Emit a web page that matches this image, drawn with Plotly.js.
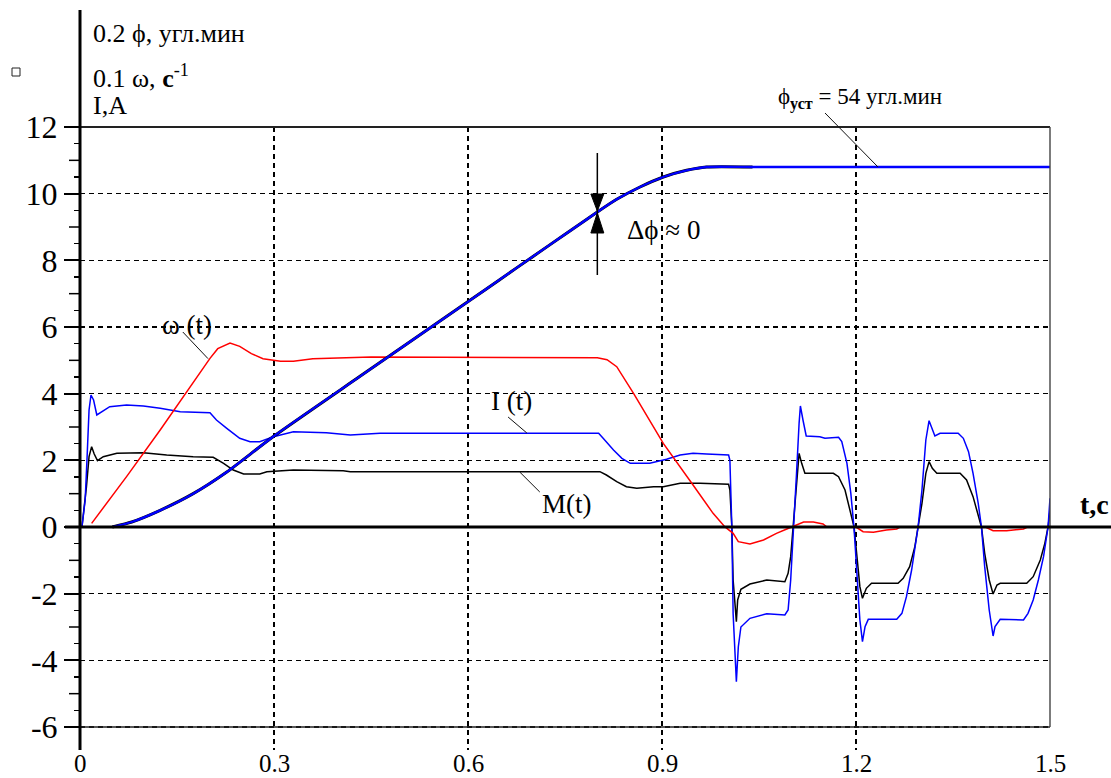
<!DOCTYPE html>
<html>
<head>
<meta charset="utf-8">
<script src="https://cdn.plot.ly/plotly-3.0.1.min.js"></script>
<style>
  html, body { margin: 0; padding: 0; background: #fff; }
  #chart { width: 1111px; height: 778px; }
</style>
</head>
<body>
<div id="chart"></div>
<script>
// Rotation angle phi (scaled 0.2, arc-minutes): actual response
const tPhi = [0.05, 0.08, 0.124, 0.175, 0.227, 0.298, 0.433, 0.603, 0.649, 0.7, 0.753, 0.8, 0.83, 0.866, 0.902, 0.938, 0.969, 1.04, 1.25, 1.5];
const phi  = [0, 0.15, 0.5, 1.0, 1.65, 2.7, 4.52, 6.8, 7.42, 8.11, 8.82, 9.45, 9.83, 10.2, 10.5, 10.7, 10.8, 10.8, 10.8, 10.8];

// Rotation angle phi: reference trajectory (drawn underneath)
const tPhiRef = [0.05, 0.08, 0.124, 0.175, 0.227, 0.298, 0.433, 0.603, 0.649, 0.7, 0.753, 0.8, 0.83, 0.866, 0.902, 0.938, 0.969, 1.04];
const phiRef  = [0, 0.15, 0.5, 1.0, 1.65, 2.7, 4.52, 6.8, 7.42, 8.11, 8.82, 9.45, 9.83, 10.2, 10.5, 10.7, 10.8, 10.8];

// Angular speed omega (scaled 0.1, 1/s)
const tOmega = [0.018, 0.072, 0.124, 0.175, 0.201, 0.213, 0.232, 0.247, 0.265, 0.283, 0.31, 0.33, 0.36, 0.45, 0.55, 0.65, 0.75, 0.8, 0.815, 0.83, 0.856, 0.902, 0.948, 0.979, 0.997, 1.010, 1.018, 1.036, 1.057, 1.077, 1.093, 1.1, 1.112, 1.119, 1.134, 1.149, 1.155, 1.2, 1.211, 1.227, 1.247, 1.263, 1.268, 1.40, 1.412, 1.433, 1.459, 1.465];
const omega  = [0.11, 1.51, 2.91, 4.35, 5.06, 5.35, 5.52, 5.42, 5.2, 5.05, 4.97, 4.97, 5.05, 5.1, 5.1, 5.1, 5.08, 5.08, 5.02, 4.81, 4.01, 2.51, 1.26, 0.41, 0.01, -0.19, -0.44, -0.51, -0.39, -0.19, -0.06, 0, 0.1, 0.15, 0.15, 0.09, 0, 0, -0.14, -0.16, -0.09, -0.06, 0, 0, -0.11, -0.11, -0.06, 0];

// Motor current I, A
const tCurrent = [0.003, 0.008, 0.011, 0.014, 0.017, 0.021, 0.026, 0.034, 0.046, 0.072, 0.098, 0.124, 0.155, 0.201, 0.211, 0.227, 0.247, 0.263, 0.278, 0.299, 0.330, 0.381, 0.418, 0.464, 0.619, 0.802, 0.809, 0.825, 0.838, 0.851, 0.881, 0.907, 0.928, 0.948, 0.969, 1.003, 1.005, 1.008, 1.010, 1.015, 1.018, 1.022, 1.036, 1.062, 1.090, 1.095, 1.099, 1.103, 1.108, 1.112, 1.114, 1.118, 1.123, 1.144, 1.152, 1.173, 1.178, 1.186, 1.192, 1.197, 1.202, 1.206, 1.210, 1.214, 1.219, 1.263, 1.271, 1.278, 1.286, 1.293, 1.296, 1.302, 1.308, 1.313, 1.317, 1.322, 1.330, 1.358, 1.366, 1.374, 1.381, 1.389, 1.394, 1.399, 1.406, 1.412, 1.415, 1.423, 1.459, 1.466, 1.474, 1.482, 1.490, 1.497, 1.500];
const current  = [0, 0.81, 2.11, 3.51, 3.96, 3.81, 3.36, 3.46, 3.61, 3.66, 3.63, 3.56, 3.46, 3.43, 3.21, 2.96, 2.66, 2.56, 2.56, 2.71, 2.86, 2.83, 2.76, 2.81, 2.81, 2.81, 2.66, 2.31, 2.06, 1.91, 1.91, 2.03, 2.16, 2.21, 2.19, 2.16, 2.0, 0, -2.6, -4.64, -3.6, -3.0, -2.74, -2.6, -2.64, -2.49, -1.59, 0, 1.6, 3.11, 3.63, 3.21, 2.73, 2.71, 2.66, 2.69, 2.56, 1.91, 1.01, -0.04, -1.59, -2.79, -3.44, -2.99, -2.77, -2.77, -2.59, -2.09, -1.29, -0.39, 0, 1.11, 2.61, 3.19, 3.01, 2.73, 2.81, 2.81, 2.66, 2.26, 1.61, 0.71, 0, -1.19, -2.49, -3.27, -2.99, -2.77, -2.79, -2.59, -2.19, -1.59, -0.89, 0, 0.86];

// Motor torque M
const tTorque = [0.003, 0.010, 0.014, 0.018, 0.022, 0.027, 0.036, 0.057, 0.098, 0.134, 0.175, 0.206, 0.222, 0.237, 0.253, 0.278, 0.289, 0.330, 0.407, 0.418, 0.804, 0.814, 0.830, 0.845, 0.861, 0.887, 0.902, 0.928, 0.959, 1.003, 1.005, 1.008, 1.010, 1.015, 1.017, 1.022, 1.036, 1.062, 1.090, 1.095, 1.099, 1.103, 1.108, 1.112, 1.116, 1.121, 1.165, 1.173, 1.183, 1.191, 1.197, 1.202, 1.206, 1.210, 1.216, 1.224, 1.265, 1.273, 1.283, 1.291, 1.296, 1.302, 1.308, 1.313, 1.318, 1.325, 1.361, 1.371, 1.381, 1.389, 1.394, 1.399, 1.406, 1.412, 1.418, 1.423, 1.464, 1.474, 1.485, 1.492, 1.497, 1.500];
const torque  = [0, 1.21, 2.11, 2.41, 2.19, 1.99, 2.11, 2.21, 2.23, 2.16, 2.11, 2.09, 1.91, 1.71, 1.59, 1.59, 1.66, 1.71, 1.69, 1.66, 1.66, 1.56, 1.36, 1.21, 1.16, 1.21, 1.21, 1.31, 1.31, 1.28, 1.11, 0, -1.59, -2.84, -2.19, -1.87, -1.71, -1.59, -1.64, -1.39, -0.89, 0, 1.11, 2.21, 1.91, 1.61, 1.61, 1.51, 1.11, 0.51, 0, -0.99, -1.79, -2.14, -1.84, -1.69, -1.69, -1.54, -1.19, -0.59, 0, 0.71, 1.61, 1.96, 1.76, 1.61, 1.61, 1.41, 0.91, 0.36, 0, -0.79, -1.59, -2.01, -1.74, -1.69, -1.69, -1.49, -0.99, -0.49, 0, 0.5];

// Axis ticks
const xTickVals = [0, 0.3, 0.6, 0.9, 1.2, 1.5];
const xTickText = ["0", "0.3", "0.6", "0.9", "1.2", "1.5"];
const yTickVals = [-6, -4, -2, 0, 2, 4, 6, 8, 10, 12];
const yTickText = ["-6", "-4", "-2", "0", "2", "4", "6", "8", "10", "12"];

// ---- geometry helpers (plot box in pixels) ----
const L = 80, W = 970, T = 127, H = 623;
const Y_MIN = -6.69, Y_MAX = 12;
const pxX = px => (px - L) / W;            // pixel x -> paper x
const pxY = py => (T + H - py) / H;        // pixel y -> paper y
const vY  = v => (v - Y_MIN) / (Y_MAX - Y_MIN); // data y -> paper y

const serif = "Liberation Serif, Times New Roman, serif";
const ink = "#000";

const traces = [
  { x: tTorque, y: torque, mode: "lines", line: { color: "#000", width: 1.5 }, hoverinfo: "skip" },
  { x: tCurrent, y: current, mode: "lines", line: { color: "#0000ff", width: 1.5 }, hoverinfo: "skip" },
  { x: tOmega, y: omega, mode: "lines", line: { color: "#ff0000", width: 1.5 }, hoverinfo: "skip" },
  { x: tPhiRef, y: phiRef, mode: "lines", line: { color: "#000", width: 3, shape: "spline", smoothing: 0.6 }, hoverinfo: "skip" },
  { x: tPhi, y: phi, mode: "lines", line: { color: "#0000ff", width: 2.3, shape: "spline", smoothing: 0.6 }, hoverinfo: "skip" }
];

const shapes = [];
const line = (x0, y0, x1, y1, w, c, layer) => shapes.push({
  type: "line", xref: "paper", yref: "paper", x0, y0, x1, y1,
  line: { color: c || ink, width: w }, layer: layer || "above"
});

// frame: top (12), bottom (-6), right (t = 1.5)
line(0, vY(12), 1, vY(12), 2, "#222");
line(0, vY(-6), 1, vY(-6), 1.6, "#222");
line(1, vY(-6), 1, vY(12), 1.4, "#444");
// vertical axis, extended above the plot
line(0, pxY(750), 0, pxY(10), 3, ink);
// zero line, extended right to the t label
line(pxX(65), vY(0), pxX(1111), vY(0), 3, ink);
// medium ticks at odd integers
for (let v = -5; v <= 11; v += 2) line(pxX(69), vY(v), 0, vY(v), 1.5, ink);
// small marker square in the upper left margin
shapes.push({ type: "rect", xref: "paper", yref: "paper",
  x0: pxX(12), x1: pxX(20), y0: pxY(76), y1: pxY(68),
  line: { color: "#222", width: 1 }, fillcolor: "rgba(0,0,0,0)" });

// leader lines for labels
const leader = (x0, y0, x1, y1) => shapes.push({
  type: "line", xref: "x", yref: "y", x0, y0, x1, y1, line: { color: "#111", width: 1 }, layer: "above"
});
leader(0.159, 5.85, 0.198, 5.05);   // omega(t)
leader(0.662, 3.30, 0.691, 2.82);   // I(t)
leader(0.680, 1.65, 0.711, 1.05);   // M(t)
line(pxX(825), pxY(113), pxX(878), pxY(167), 1, "#111"); // phi steady-state

// delta-phi double arrow at t = 0.8
const tA = 0.8, hw = 0.01;
shapes.push({ type: "line", xref: "x", yref: "y", x0: tA, x1: tA, y0: 7.56, y1: 11.22,
  line: { color: ink, width: 1.5 }, layer: "above" });
shapes.push({ type: "path", xref: "x", yref: "y", layer: "above",
  path: `M ${tA - hw},9.99 L ${tA + hw},9.99 L ${tA},9.48 Z`,
  fillcolor: ink, line: { color: ink, width: 1 } });
shapes.push({ type: "path", xref: "x", yref: "y", layer: "above",
  path: `M ${tA - hw},8.82 L ${tA + hw},8.82 L ${tA},9.42 Z`,
  fillcolor: ink, line: { color: ink, width: 1 } });

const ann = (text, x, y, opts) => Object.assign({
  text, x, y, xref: "paper", yref: "paper", showarrow: false,
  xanchor: "left", yanchor: "middle",
  font: { family: serif, size: 26, color: ink }
}, opts || {});

const annotations = [
  ann("0.2 ϕ, угл.мин", pxX(91), pxY(33)),
  ann("0.1 ω, <b>с</b><sup>-1</sup>", pxX(91), pxY(76)),
  ann("I,A", pxX(91), pxY(106)),
  ann("ϕ<sub><b>уст</b></sub> = 54 угл.мин", pxX(776), pxY(98), { font: { family: serif, size: 23, color: ink } }),
  ann("<b>t,c</b>", pxX(1078), pxY(505), { font: { family: serif, size: 28, color: ink } }),
  ann("ω (t)", 0.166, 6.06, { xref: "x", yref: "y", xanchor: "center", font: { family: serif, size: 27, color: ink } }),
  ann("I (t)", 0.6665, 3.78, { xref: "x", yref: "y", xanchor: "center", font: { family: serif, size: 27, color: ink } }),
  ann("M(t)", 0.753, 0.69, { xref: "x", yref: "y", xanchor: "center", font: { family: serif, size: 27, color: ink } }),
  ann("Δϕ ≈ 0", 0.843, 8.91, { xref: "x", yref: "y", font: { family: serif, size: 27, color: ink } })
];

// time-axis labels, placed on the x scale and resting on the bottom edge
xTickVals.forEach((v, i) => annotations.push(ann(xTickText[i], v, pxY(778), {
  xref: "x", yref: "paper", xanchor: "center", yanchor: "bottom", borderpad: 0,
  font: { family: serif, size: 25, color: ink }
})));

// half-unit minor ticks
const minorVals = [];
for (let v = -5.5; v <= 11.5; v += 1) minorVals.push(v);

const layout = {
  width: 1111, height: 778,
  margin: { l: L, r: 1111 - L - W, t: T, b: 778 - T - H },
  paper_bgcolor: "#fff", plot_bgcolor: "#fff",
  showlegend: false,
  font: { family: serif, color: ink },
  xaxis: {
    range: [0, 1.5], tickmode: "array", tickvals: xTickVals, ticktext: xTickText,
    showticklabels: false,
    ticks: "", showline: false, zeroline: false,
    showgrid: true, gridcolor: "#000", gridwidth: 1.3, griddash: "5px,4px"
  },
  yaxis: {
    range: [Y_MIN, Y_MAX], tickmode: "array", tickvals: yTickVals, ticktext: yTickText,
    ticks: "outside", ticklen: 15, tickwidth: 2, tickcolor: ink,
    showline: false, zeroline: false,
    showgrid: true, gridcolor: "#000", gridwidth: 1.3, griddash: "5px,4px",
    tickfont: { family: serif, size: 32, color: ink },
    minor: { tickvals: minorVals, ticks: "outside", ticklen: 5, tickwidth: 1.5, tickcolor: ink, showgrid: false }
  },
  shapes, annotations
};

Plotly.newPlot("chart", traces, layout, { displayModeBar: false, staticPlot: true });
</script>
</body>
</html>
